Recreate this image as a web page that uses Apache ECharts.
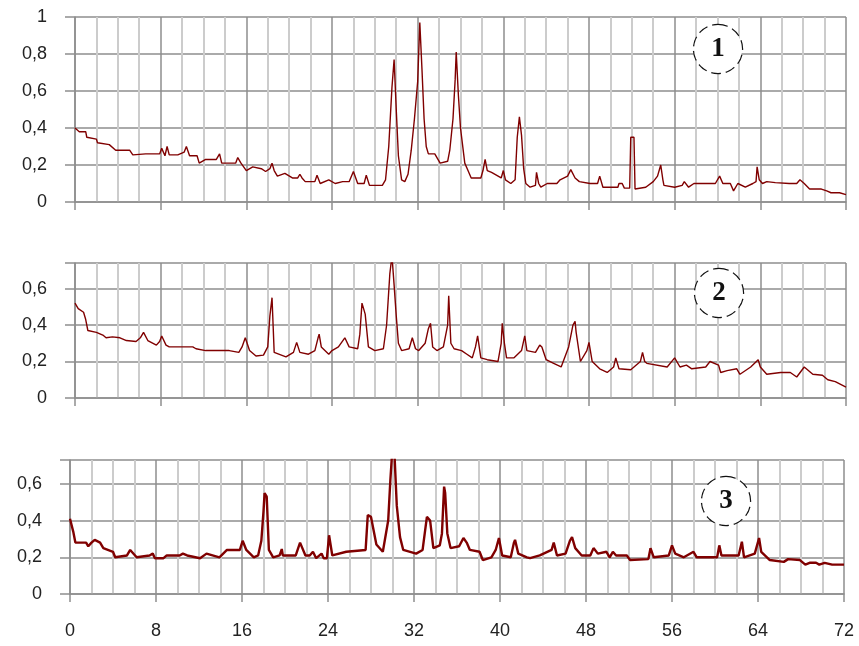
<!DOCTYPE html>
<html>
<head>
<meta charset="utf-8">
<script src="https://cdn.jsdelivr.net/npm/echarts@6/dist/echarts.min.js"></script>
<style>
    html, body { margin: 0; padding: 0; background: #fff; }
    #chart { width: 859px; height: 646px; }
</style>
</head>
<body>
<div id="chart"></div>
<script>
// 三条衍射曲线 [2θ, 强度]
var xrd1 = [[0,0.40],[0.4,0.38],[1.0,0.38],[1.1,0.35],[2.0,0.34],[2.1,0.32],[3.2,0.31],[3.8,0.28],[5.1,0.28],[5.4,0.255],[6.6,0.26],[7.9,0.26],[8.1,0.29],[8.4,0.25],[8.6,0.30],[8.8,0.255],[9.6,0.255],[10.2,0.27],[10.4,0.30],[10.7,0.25],[11.4,0.25],[11.6,0.21],[12.2,0.23],[13.2,0.23],[13.5,0.26],[13.7,0.21],[15.0,0.21],[15.2,0.24],[15.5,0.21],[16.0,0.17],[16.6,0.19],[17.4,0.18],[17.8,0.165],[18.2,0.18],[18.4,0.21],[18.6,0.17],[18.9,0.14],[19.6,0.155],[20.3,0.13],[20.8,0.13],[21.0,0.15],[21.2,0.13],[21.5,0.11],[22.4,0.11],[22.6,0.145],[22.9,0.10],[23.7,0.12],[24.3,0.10],[25.0,0.11],[25.6,0.11],[26.0,0.165],[26.4,0.10],[27.0,0.10],[27.2,0.145],[27.5,0.09],[28.7,0.09],[29.0,0.12],[29.3,0.30],[29.6,0.62],[29.8,0.77],[30.0,0.50],[30.2,0.25],[30.5,0.12],[30.8,0.11],[31.1,0.15],[31.4,0.28],[31.7,0.45],[32.0,0.65],[32.2,0.97],[32.4,0.72],[32.6,0.45],[32.8,0.30],[33.0,0.26],[33.6,0.26],[33.8,0.24],[34.1,0.21],[34.8,0.22],[35.0,0.28],[35.3,0.45],[35.5,0.66],[35.6,0.81],[35.8,0.58],[36.0,0.40],[36.4,0.21],[36.7,0.17],[37.0,0.13],[37.9,0.13],[38.1,0.17],[38.3,0.23],[38.5,0.17],[38.9,0.16],[39.8,0.13],[40.0,0.17],[40.2,0.12],[40.7,0.10],[41.1,0.12],[41.3,0.35],[41.5,0.46],[41.7,0.36],[41.9,0.18],[42.1,0.10],[42.5,0.08],[43.0,0.09],[43.1,0.16],[43.3,0.10],[43.5,0.08],[44.1,0.10],[45.0,0.10],[45.3,0.12],[46.0,0.14],[46.3,0.175],[46.7,0.13],[47.1,0.11],[48.1,0.10],[48.8,0.10],[49.0,0.14],[49.3,0.08],[50.7,0.08],[50.8,0.10],[51.1,0.10],[51.3,0.075],[51.8,0.075],[51.9,0.35],[52.2,0.35],[52.3,0.07],[53.3,0.08],[54.0,0.11],[54.4,0.14],[54.7,0.20],[54.9,0.12],[55.0,0.09],[56.0,0.08],[56.7,0.09],[56.9,0.11],[57.3,0.08],[57.8,0.10],[58.8,0.10],[59.8,0.10],[60.2,0.14],[60.5,0.10],[61.2,0.10],[61.5,0.06],[61.9,0.10],[62.6,0.08],[63.3,0.10],[63.6,0.11],[63.7,0.19],[63.9,0.12],[64.2,0.10],[64.6,0.11],[65.4,0.105],[66.7,0.10],[67.4,0.10],[67.7,0.12],[68.1,0.10],[68.6,0.07],[69.7,0.07],[70.2,0.06],[70.6,0.05],[71.4,0.05],[72,0.04]];

var xrd2 = [[0,0.52],[0.3,0.49],[0.8,0.47],[1.0,0.43],[1.2,0.37],[2.0,0.36],[2.6,0.345],[2.9,0.33],[3.5,0.335],[4.2,0.33],[4.8,0.315],[5.7,0.31],[6.1,0.33],[6.4,0.36],[6.8,0.315],[7.6,0.29],[7.9,0.31],[8.1,0.34],[8.5,0.29],[8.8,0.28],[11.0,0.28],[11.3,0.27],[12.2,0.26],[14.4,0.26],[15.3,0.25],[15.6,0.28],[15.9,0.33],[16.3,0.26],[16.9,0.23],[17.6,0.235],[18.0,0.28],[18.2,0.45],[18.4,0.55],[18.5,0.40],[18.6,0.25],[19.7,0.225],[20.4,0.25],[20.7,0.305],[21.0,0.25],[21.8,0.24],[22.4,0.26],[22.7,0.33],[22.8,0.35],[23.0,0.28],[23.7,0.24],[24.0,0.26],[24.6,0.28],[25.2,0.33],[25.6,0.28],[26.4,0.27],[26.6,0.35],[26.8,0.52],[27.1,0.46],[27.4,0.28],[28.0,0.26],[28.8,0.27],[29.1,0.40],[29.4,0.68],[29.6,0.78],[29.8,0.62],[30.0,0.45],[30.2,0.30],[30.5,0.26],[31.2,0.27],[31.5,0.33],[31.8,0.27],[32.1,0.26],[32.7,0.30],[33.0,0.38],[33.2,0.41],[33.4,0.28],[33.8,0.26],[34.4,0.28],[34.8,0.40],[34.9,0.56],[35.1,0.30],[35.4,0.27],[36.1,0.26],[36.6,0.24],[37.1,0.22],[37.4,0.28],[37.6,0.34],[37.9,0.22],[38.5,0.21],[39.5,0.20],[39.8,0.30],[39.9,0.41],[40.1,0.30],[40.3,0.22],[41.0,0.22],[41.7,0.26],[42.0,0.34],[42.2,0.26],[43.0,0.25],[43.4,0.29],[43.6,0.28],[44.0,0.21],[44.7,0.19],[45.4,0.17],[46.1,0.28],[46.5,0.40],[46.7,0.42],[46.8,0.36],[47.2,0.20],[47.8,0.26],[48.0,0.305],[48.3,0.20],[49.0,0.16],[49.7,0.14],[50.3,0.17],[50.5,0.22],[50.8,0.16],[51.9,0.155],[52.8,0.20],[53.0,0.25],[53.2,0.20],[53.4,0.19],[55.3,0.17],[56.0,0.22],[56.5,0.17],[57.1,0.18],[57.6,0.16],[58.9,0.17],[59.3,0.20],[60.1,0.18],[60.3,0.14],[60.9,0.15],[61.8,0.16],[62.1,0.13],[63.1,0.17],[63.8,0.21],[64.0,0.17],[64.6,0.13],[65.9,0.14],[66.8,0.14],[67.4,0.115],[68.1,0.17],[68.9,0.13],[69.8,0.125],[70.3,0.10],[71.0,0.09],[72,0.06]];

var xrd3 = [[0,0.41],[0.3,0.34],[0.5,0.28],[1.5,0.28],[1.7,0.26],[2.0,0.28],[2.3,0.295],[2.8,0.28],[3.1,0.25],[4.0,0.23],[4.2,0.20],[5.3,0.21],[5.6,0.24],[6.2,0.20],[7.4,0.21],[7.7,0.22],[7.9,0.195],[8.7,0.195],[9.0,0.21],[10.2,0.21],[10.5,0.22],[10.9,0.21],[12.1,0.195],[12.7,0.22],[13.9,0.20],[14.6,0.24],[15.8,0.24],[16.06,0.29],[16.4,0.24],[17.1,0.20],[17.5,0.21],[17.8,0.29],[18.0,0.45],[18.1,0.55],[18.3,0.53],[18.5,0.24],[18.9,0.20],[19.5,0.21],[19.7,0.245],[19.8,0.21],[21.0,0.21],[21.4,0.28],[21.9,0.21],[22.3,0.21],[22.6,0.23],[22.9,0.195],[23.4,0.22],[23.6,0.195],[23.9,0.195],[24.1,0.32],[24.4,0.21],[25.7,0.23],[27.5,0.24],[27.7,0.43],[28.0,0.42],[28.5,0.27],[29.1,0.23],[29.6,0.40],[29.8,0.62],[30.0,0.80],[30.2,0.74],[30.4,0.48],[30.7,0.31],[31.0,0.24],[32.2,0.22],[32.8,0.24],[33.2,0.42],[33.5,0.40],[33.8,0.25],[34.4,0.265],[34.6,0.33],[34.8,0.585],[34.9,0.55],[35.1,0.33],[35.4,0.25],[36.2,0.26],[36.6,0.305],[36.9,0.28],[37.2,0.24],[38.1,0.23],[38.4,0.185],[39.2,0.20],[39.6,0.24],[39.9,0.305],[40.2,0.21],[41.0,0.20],[41.3,0.28],[41.4,0.295],[41.7,0.22],[42.5,0.20],[42.8,0.195],[43.7,0.21],[44.8,0.24],[45.0,0.28],[45.3,0.21],[46.1,0.22],[46.5,0.29],[46.7,0.31],[47.0,0.25],[47.6,0.21],[48.4,0.21],[48.7,0.25],[49.1,0.22],[49.9,0.23],[50.2,0.20],[50.5,0.23],[50.8,0.21],[51.8,0.21],[52.1,0.185],[53.8,0.19],[54.0,0.25],[54.3,0.20],[55.7,0.21],[56.0,0.265],[56.3,0.22],[57.1,0.20],[58.0,0.23],[58.3,0.20],[60.2,0.20],[60.4,0.265],[60.6,0.21],[62.2,0.21],[62.5,0.285],[62.7,0.20],[63.7,0.22],[64.1,0.305],[64.3,0.23],[65.1,0.185],[66.4,0.175],[66.8,0.19],[67.9,0.185],[68.4,0.16],[68.8,0.17],[69.4,0.17],[69.7,0.16],[70.2,0.17],[70.9,0.16],[72,0.16]];

var curves = [xrd1, xrd2, xrd3];
var curveNames = ['1', '2', '3'];
var yMax = [1, 0.74, 0.73];
var lineWidths = [1.4, 1.4, 2.4];

var grids = [
    {left: 75, top: 17, width: 773, height: 185},
    {left: 75, top: 263, width: 773, height: 135},
    {left: 70, top: 460, width: 774, height: 134}
];

var major = '#8e8e8e', minor = '#cccccc', txt = '#222';

function onStep(v) {
    return Math.abs(v * 5 - Math.round(v * 5)) < 1e-6;
}

var xAxis = [], yAxis = [], series = [], titles = [];
grids.forEach(function (g, i) {
    xAxis.push({
        gridIndex: i, type: 'value', min: 0, max: 72, interval: 8,
        axisLine: {show: true, lineStyle: {color: major, width: 1.5}},
        axisTick: {show: true, length: 8, lineStyle: {color: major, width: 1.5}},
        axisLabel: {fontSize: 18, margin: 28, color: i === 2 ? txt : 'rgba(255,255,255,0)'},
        splitLine: {show: true, lineStyle: {color: major, width: 1.5}},
        minorTick: {show: false, splitNumber: 4},
        minorSplitLine: {show: true, lineStyle: {color: minor, width: 2}}
    });
    yAxis.push({
        gridIndex: i, type: 'value', min: 0, max: yMax[i], interval: 0.2,
        axisLine: {show: true, lineStyle: {color: major, width: 1.5}},
        axisTick: {show: true, length: 10, lineStyle: {color: major, width: 1.5}},
        axisLabel: {
            fontSize: 18, margin: 28, color: txt,
            formatter: function (v) {
                return onStep(v) ? String(Math.round(v * 10) / 10).replace('.', ',') : '';
            }
        },
        splitLine: {show: true, lineStyle: {color: major, width: 1.5}}
    });
    series.push({
        type: 'line', xAxisIndex: i, yAxisIndex: i, data: curves[i],
        showSymbol: false, symbol: 'none',
        lineStyle: {color: '#800000', width: lineWidths[i]}, z: 5
    });
});

// 编号圆圈（用标题的富文本画）
var marks = [[719, 50], [720, 294], [727, 502]];
marks.forEach(function (m, i) {
    titles.push({
        text: '{c|' + curveNames[i] + '}',
        left: m[0] - 25,
        top: m[1] - 25,
        padding: 0,
        z: 20,
        textStyle: {
            rich: {
                c: {
                    width: 48, height: 48, lineHeight: 48, align: 'center', verticalAlign: 'middle',
                    borderColor: '#111', borderWidth: 1.2, borderType: 'dashed', borderRadius: 24,
                    backgroundColor: '#fff', color: '#111',
                    fontSize: 27, fontWeight: 'bold', fontFamily: 'serif'
                }
            }
        }
    });
});

var chart = echarts.init(document.getElementById('chart'));
chart.setOption({
    animation: false,
    title: titles,
    grid: grids,
    xAxis: xAxis,
    yAxis: yAxis,
    series: series
});
</script>
</body>
</html>
